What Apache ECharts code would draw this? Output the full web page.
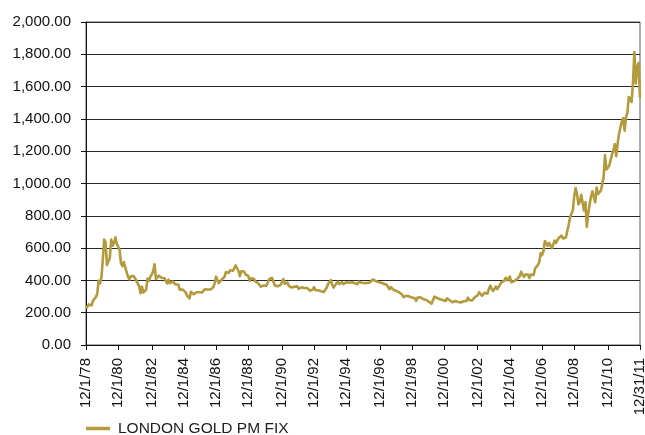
<!DOCTYPE html>
<html>
<head>
<meta charset="utf-8">
<title>London Gold PM Fix</title>
<script src="https://cdn.jsdelivr.net/npm/echarts@6/dist/echarts.min.js"></script>
<style>
  html, body { margin: 0; padding: 0; background: #fff; }
  #chart { width: 645px; height: 435px; }
</style>
</head>
<body>
<div id="chart"></div>
<script>
// London gold PM fix, month-end values in US$ per troy ounce (Dec 1978 - Dec 2011)
const fix1978to1979 = [
  226.0,
  233.7, 251.3, 240.1, 245.3, 274.6, 277.5, 296.5, 315.1, 397.3, 382.0, 415.7, 524.0
];
const fix1980s = [
  653.0, 637.0, 494.5, 518.0, 535.5, 653.5, 614.3, 631.3, 666.8, 629.0, 619.8, 589.8,
  506.5, 489.0, 513.8, 482.8, 479.3, 424.0, 406.0, 425.5, 428.8, 427.0, 414.5, 397.5,
  387.0, 362.6, 320.0, 361.3, 325.3, 317.5, 342.9, 411.5, 397.0, 423.3, 436.0, 456.9,
  499.5, 408.5, 414.8, 429.3, 437.5, 416.0, 422.0, 414.3, 405.0, 382.0, 405.0, 382.4,
  371.0, 394.3, 388.0, 375.8, 384.3, 373.8, 342.4, 348.3, 343.8, 333.5, 329.0, 309.0,
  306.7, 287.8, 329.3, 321.4, 314.0, 317.0, 326.9, 333.3, 326.5, 325.1, 325.3, 327.0,
  345.5, 338.2, 344.0, 345.7, 343.3, 345.5, 357.5, 384.7, 423.2, 401.0, 383.5, 390.9,
  405.8, 405.9, 421.3, 451.0, 460.0, 447.3, 462.5, 453.4, 459.5, 468.8, 492.5, 484.1,
  458.0, 426.2, 456.9, 449.0, 455.5, 436.6, 436.8, 427.8, 397.7, 412.4, 422.6, 410.2,
  394.0, 387.0, 383.2, 377.6, 361.4, 373.0, 368.3, 359.8, 366.5, 375.3, 408.2, 398.6
];
const fix1990s = [
  415.1, 407.7, 368.5, 367.8, 363.1, 352.2, 372.3, 387.8, 408.4, 379.5, 384.9, 386.2,
  366.0, 362.7, 355.7, 357.8, 360.4, 368.4, 362.9, 347.4, 354.9, 357.5, 366.3, 353.2,
  354.1, 353.1, 341.7, 336.4, 337.5, 343.4, 357.8, 340.0, 349.0, 339.3, 334.2, 332.9,
  330.5, 327.6, 337.8, 354.3, 377.4, 378.5, 401.8, 371.6, 355.5, 369.6, 370.9, 391.8,
  377.9, 381.6, 389.2, 376.5, 387.6, 388.3, 384.0, 385.8, 394.9, 389.1, 383.1, 383.3,
  374.9, 376.4, 392.0, 389.8, 385.3, 387.1, 383.4, 382.4, 384.0, 382.7, 387.8, 387.0,
  405.6, 400.7, 396.4, 392.0, 390.6, 382.0, 385.3, 386.5, 379.0, 379.5, 371.3, 369.3,
  345.5, 358.6, 348.2, 340.2, 345.0, 334.6, 326.4, 325.4, 332.1, 311.4, 296.8, 290.2,
  304.9, 297.4, 301.0, 310.7, 293.6, 296.3, 288.9, 273.4, 293.9, 292.3, 294.7, 287.8,
  285.4, 287.1, 279.5, 286.6, 268.6, 261.0, 255.6, 254.8, 299.0, 299.1, 291.4, 290.3
];
const fix2000s = [
  283.3, 293.7, 278.4, 275.1, 272.3, 288.2, 276.8, 277.0, 273.7, 264.5, 269.1, 272.7,
  264.5, 266.7, 257.7, 263.2, 267.5, 270.6, 265.9, 273.0, 293.1, 278.8, 275.5, 276.5,
  282.3, 296.9, 301.4, 308.2, 326.6, 318.5, 304.7, 312.8, 323.7, 316.9, 317.7, 347.2,
  367.5, 347.5, 334.9, 336.8, 361.4, 346.0, 354.8, 375.6, 388.0, 386.3, 398.4, 416.3,
  399.8, 395.9, 423.7, 388.5, 393.3, 395.8, 391.4, 407.3, 415.7, 425.6, 453.4, 435.6,
  422.2, 435.5, 427.5, 435.7, 414.5, 437.1, 429.0, 433.3, 473.3, 470.8, 495.7, 513.0,
  568.8, 556.0, 582.0, 644.0, 653.0, 613.5, 632.5, 623.5, 599.3, 603.8, 646.7, 632.0,
  650.5, 664.2, 661.8, 677.0, 659.1, 650.5, 665.5, 672.0, 743.0, 789.5, 783.5, 833.8,
  923.3, 971.5, 933.5, 871.0, 885.8, 930.3, 918.0, 833.0, 884.5, 730.8, 814.5, 869.8,
  919.5, 952.0, 916.5, 883.3, 975.5, 934.5, 939.0, 955.5, 995.8, 1040.0, 1175.8, 1087.5
];
const fix2010to2011 = [
  1078.5, 1109.5, 1115.5, 1179.3, 1207.5, 1244.0, 1169.0, 1246.0, 1307.0, 1346.8, 1383.5, 1405.5,
  1327.0, 1411.0, 1439.0, 1535.5, 1536.5, 1505.5, 1628.5, 1813.5, 1620.0, 1722.0, 1746.0, 1531.0
];

// Axis tick labels, spread evenly across the date range
const xTickLabels = [
  '12/1/78', '12/1/80', '12/1/82', '12/1/84', '12/1/86', '12/1/88', '12/1/90', '12/1/92', '12/1/94',
  '12/1/96', '12/1/98', '12/1/00', '12/1/02', '12/1/04', '12/1/06', '12/1/08', '12/1/10', '12/31/11'
];
const seriesName = 'LONDON GOLD PM FIX';

const GOLD = '#b39a3d';
const FONT = '"Liberation Sans", Arial, Helvetica, sans-serif';

const prices = [].concat(fix1978to1979, fix1980s, fix1990s, fix2000s, fix2010to2011);

// One category per month, starting December 1978
const months = prices.map((_, i) => {
  const m = (11 + i) % 12 + 1;
  const y = 1978 + Math.floor((11 + i) / 12);
  return m + '/1/' + String(y % 100).padStart(2, '0');
});

const lastIndex = months.length - 1;
const segments = xTickLabels.length - 1;
const tickIndex = xTickLabels.map((_, k) => Math.round(k * lastIndex / segments));
const isTick = (i) => tickIndex.indexOf(i) !== -1;

const chart = echarts.init(document.getElementById('chart'), null, { renderer: 'canvas' });

chart.setOption({
  animation: false,
  backgroundColor: '#ffffff',
  textStyle: { fontFamily: FONT },
  grid: {
    left: 86, right: 5, top: 22, bottom: 90,
    show: true, borderColor: '#5a5a5a', borderWidth: 1,
    containLabel: false, outerBoundsMode: 'none'
  },
  legend: {
    data: [seriesName],
    left: 86, top: 419, padding: 0,
    icon: 'rect', itemWidth: 24, itemHeight: 3.5,
    textStyle: { fontFamily: FONT, fontSize: 15.5, color: '#1e1e1e', lineHeight: 19, padding: [0, 0, 0, 3] }
  },
  xAxis: {
    type: 'category',
    data: months,
    boundaryGap: false,
    axisLine: { lineStyle: { color: '#111', width: 1 } },
    axisTick: { show: true, interval: (i) => isTick(i), length: 5, lineStyle: { color: '#111' } },
    axisLabel: {
      interval: (i) => isTick(i),
      rotate: 90,
      margin: 13,
      fontFamily: FONT, fontSize: 15, color: '#111',
      formatter: (value, i) => xTickLabels[tickIndex.indexOf(i)]
    },
    splitLine: { show: false }
  },
  yAxis: {
    type: 'value',
    min: 0, max: 2000, interval: 200,
    axisLine: { show: true, lineStyle: { color: '#111', width: 1 } },
    axisTick: { show: true, length: 5, lineStyle: { color: '#111' } },
    axisLabel: {
      margin: 15,
      fontFamily: FONT, fontSize: 15, color: '#111',
      formatter: (v) => v.toLocaleString('en-US', { minimumFractionDigits: 2, maximumFractionDigits: 2 })
    },
    splitLine: { show: true, lineStyle: { color: '#2a2a2a', width: 1 } }
  },
  series: [{
    name: seriesName,
    type: 'line',
    data: prices,
    color: GOLD,
    showSymbol: false,
    symbol: 'none',
    lineStyle: { color: GOLD, width: 2.6, join: 'round' }
  }]
});
</script>
</body>
</html>
